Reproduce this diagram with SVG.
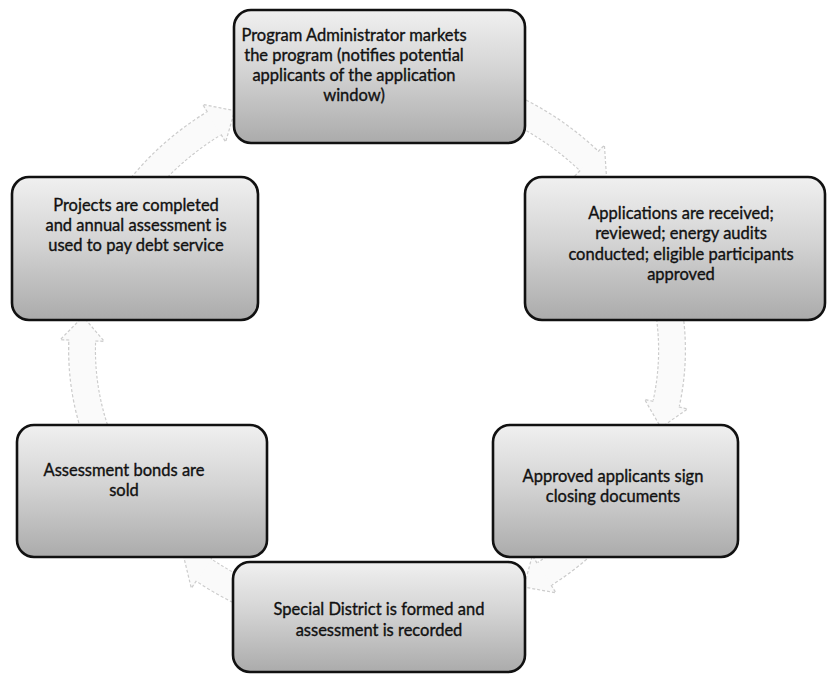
<svg xmlns="http://www.w3.org/2000/svg" width="829" height="681" viewBox="0 0 829 681">
<defs>
<linearGradient id="g" x1="0" y1="0" x2="0" y2="1">
<stop offset="0" stop-color="#f0f0f0"/>
<stop offset="0.45" stop-color="#d4d4d4"/>
<stop offset="1" stop-color="#ababab"/>
</linearGradient>
<marker id="ah" markerUnits="userSpaceOnUse" markerWidth="40" markerHeight="50" refX="0" refY="0" viewBox="-2 -25 30 50" orient="auto" overflow="visible">
<polygon points="-1,-22 -1,22 24,0" fill="#fafafa"/>
<path d="M0,-13 L0,-22 L24,0 L0,22 L0,13" fill="none" stroke="#cccccc" stroke-width="1.2" stroke-dasharray="3 2"/>
</marker>
<style>
.box{fill:url(#g);stroke:#111;stroke-width:2.6}
.t{font-family:Lato,"Liberation Sans",sans-serif;font-size:16.5px;fill:#111;stroke:#111;stroke-width:0.35;text-anchor:middle}
.bo{fill:none;stroke:#cccccc;stroke-width:28;stroke-dasharray:3 2}
.bi{fill:none;stroke:#fafafa;stroke-width:25.6;marker-end:url(#ah)}
</style>
</defs>
<rect width="829" height="681" fill="#fff"/>
<g id="connectors">
<path class="bo" d="M515.5,109.8 A295,272 0 0 1 589.2,161.0"/>
<path class="bi" d="M515.5,109.8 A295,272 0 0 1 589.2,161.0"/>
<path class="bo" d="M668.4,307.5 A295,272 0 0 1 666.1,404.2"/>
<path class="bi" d="M668.4,307.5 A295,272 0 0 1 666.1,404.2"/>
<path class="bo" d="M581.9,545.7 A295,272 0 0 1 544.1,574.2"/>
<path class="bi" d="M581.9,545.7 A295,272 0 0 1 544.1,574.2"/>
<path class="bo" d="M252.3,596.5 A295,272 0 0 1 203.6,570.0"/>
<path class="bi" d="M252.3,596.5 A295,272 0 0 1 203.6,570.0"/>
<path class="bo" d="M99.8,443.0 A295,272 0 0 1 82.2,340.5"/>
<path class="bi" d="M99.8,443.0 A295,272 0 0 1 82.2,340.5"/>
<path class="bo" d="M138.3,190.1 A295,272 0 0 1 214.2,123.2"/>
<path class="bi" d="M138.3,190.1 A295,272 0 0 1 214.2,123.2"/>
</g>
<g id="node1">
<rect class="box" x="234" y="10" width="291" height="133" rx="17"/>
<text class="t" x="354" y="41">Program Administrator markets</text>
<text class="t" x="354" y="61">the program (notifies potential</text>
<text class="t" x="354" y="81">applicants of the application</text>
<text class="t" x="354" y="101">window)</text>
</g>
<g id="node2">
<rect class="box" x="525" y="177" width="300" height="143" rx="17"/>
<text class="t" x="681" y="219">Applications are received;</text>
<text class="t" x="681" y="239">reviewed; energy audits</text>
<text class="t" x="681" y="260">conducted; eligible participants</text>
<text class="t" x="681" y="280">approved</text>
</g>
<g id="node3">
<rect class="box" x="12" y="177" width="246" height="143" rx="17"/>
<text class="t" x="136" y="211">Projects are completed</text>
<text class="t" x="136" y="231">and annual assessment is</text>
<text class="t" x="136" y="251">used to pay debt service</text>
</g>
<g id="node4">
<rect class="box" x="17" y="425" width="250" height="132" rx="17"/>
<text class="t" x="124" y="476">Assessment bonds are</text>
<text class="t" x="124" y="496">sold</text>
</g>
<g id="node5">
<rect class="box" x="493" y="425" width="245" height="132" rx="17"/>
<text class="t" x="613" y="482">Approved applicants sign</text>
<text class="t" x="613" y="502">closing documents</text>
</g>
<g id="node6">
<rect class="box" x="233" y="562" width="292" height="110" rx="17"/>
<text class="t" x="379" y="615">Special District is formed and</text>
<text class="t" x="379" y="636">assessment is recorded</text>
</g>
</svg>
